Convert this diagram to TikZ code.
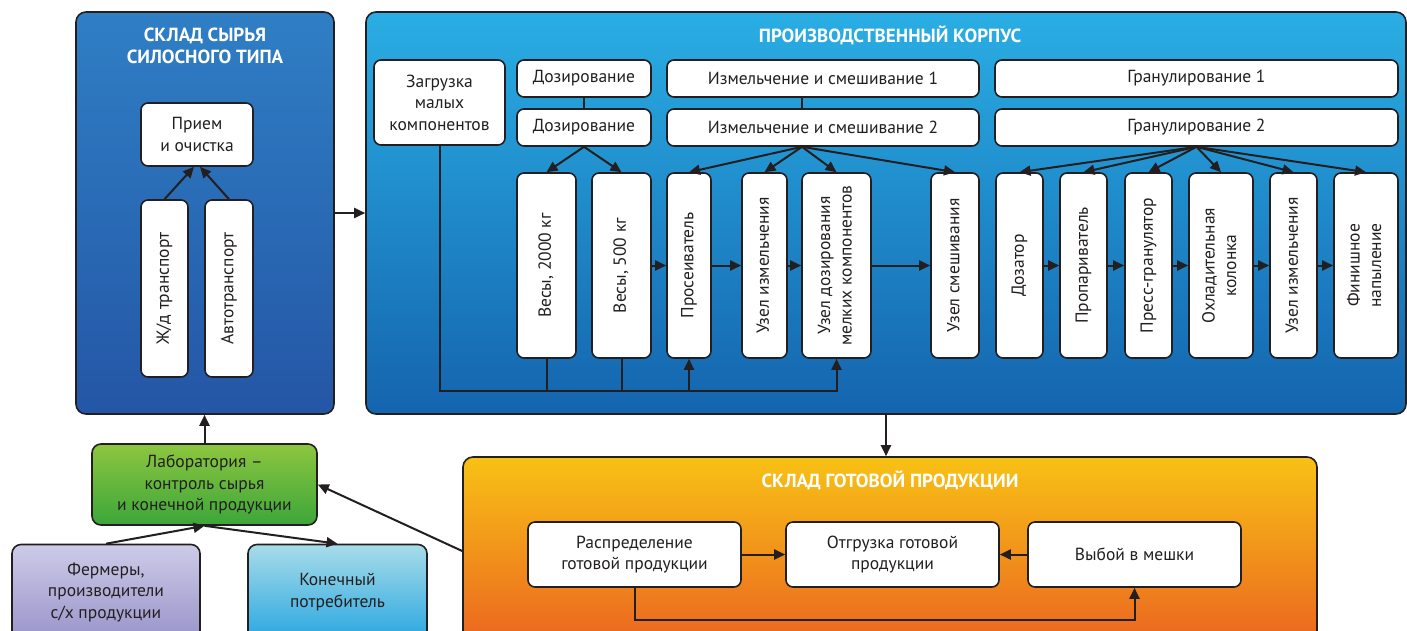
\documentclass[tikz,border=0pt]{standalone}
\usepackage{fontspec}
\setmainfont{PT Sans}
\usepackage{graphicx}
\usetikzlibrary{arrows.meta}

\definecolor{syrtop}{HTML}{2F7FC5}
\definecolor{syrbot}{HTML}{2456A6}
\definecolor{prodtop}{HTML}{2AAEE4}
\definecolor{prodbot}{HTML}{1464AE}
\definecolor{gottop}{HTML}{F8C215}
\definecolor{gotbot}{HTML}{EB6420}
\definecolor{labtop}{HTML}{8DC63F}
\definecolor{labbot}{HTML}{3CA63A}
\definecolor{fermtop}{HTML}{CDCBE8}
\definecolor{fermbot}{HTML}{9994CA}
\definecolor{potrtop}{HTML}{A8DCE9}
\definecolor{potrbot}{HTML}{2AA7E0}
\definecolor{ink}{HTML}{231F20}

\begin{document}
\begin{tikzpicture}[x=1pt,y=-1pt,>={Triangle[length=11pt,width=10pt]},font=\fontsize{17.5}{21.5}\selectfont,text=ink]
 \tikzstyle{panel} = [draw=ink,line width=1.6pt,rounded corners=10pt,inner sep=0pt]
 \tikzstyle{box} = [draw=ink,line width=1.6pt,fill=white,rounded corners=7pt,inner sep=0pt,align=center]
 \tikzstyle{vbox} = [box,minimum height=185pt]
 \tikzstyle{title} = [white,font=\fontsize{19}{22}\selectfont\bfseries,align=center]
 \tikzstyle{link} = [line width=2pt,ink]
 \newcommand{\vtxt}[1]{\rotatebox{90}{\begin{tabular}{@{}c@{}}#1\end{tabular}}}

 \useasboundingbox (0,0) rectangle (1407,630);

% Raw material silo
 \node[panel,top color=syrtop,bottom color=syrbot,minimum width=258pt,minimum height=402pt] (syr) at (205,213) {};
 \node[title] (syrt) at (205,46) {СКЛАД СЫРЬЯ\\СИЛОСНОГО ТИПА};
 \node[box,minimum width=112pt,minimum height=63pt] (priem) at (197,134.5) {Прием\\и очистка};
 \node[vbox,minimum width=47pt,minimum height=177pt] (zhd) at (164.5,288.5) {\vtxt{Ж/д транспорт}};
 \node[vbox,minimum width=48pt,minimum height=177pt] (avto) at (229,288.5) {\vtxt{Автотранспорт}};
 \draw[link,->] (zhd.north) -- ([xshift=-3pt]priem.south);
 \draw[link,->] (avto.north) -- ([xshift=3pt]priem.south);

% Production building
 \node[panel,top color=prodtop,bottom color=prodbot,minimum width=1040pt,minimum height=402pt] (prod) at (886,213) {};
 \node[title] (prodt) at (890,35) {ПРОИЗВОДСТВЕННЫЙ КОРПУС};
 \draw[link,->] (syr.east) -- (prod.west);

 \node[box,minimum width=131pt,minimum height=85pt] (zagr) at (439.5,102.5) {Загрузка\\малых\\компонентов};
 \node[box,minimum width=134pt,minimum height=37pt] (doz1) at (584,78.5) {Дозирование};
 \node[box,minimum width=134pt,minimum height=37pt] (doz2) at (584,127.5) {Дозирование};
 \node[box,minimum width=312pt,minimum height=37pt] (izm1) at (823,78.5) {Измельчение и смешивание 1};
 \node[box,minimum width=312pt,minimum height=37pt] (izm2) at (823,127.5) {Измельчение и смешивание 2};
 \node[box,minimum width=403pt,minimum height=37pt] (gran1) at (1196.5,78.5) {Гранулирование 1};
 \node[box,minimum width=403pt,minimum height=37pt] (gran2) at (1196.5,127.5) {Гранулирование 2};

 \node[vbox,minimum width=59pt] (ves2000) at (546.5,265.5) {\vtxt{Весы, 2000 кг}};
 \node[vbox,minimum width=59pt] (ves500) at (621.5,265.5) {\vtxt{Весы, 500 кг}};
 \node[vbox,minimum width=44pt] (pros) at (689,265.5) {\vtxt{Просеиватель}};
 \node[vbox,minimum width=45pt] (uzizm) at (764.5,265.5) {\vtxt{Узел измельчения}};
 \node[vbox,minimum width=69pt] (uzdoz) at (836.5,265.5) {\vtxt{Узел дозирования\\мелких компонентов}};
 \node[vbox,minimum width=48pt] (uzsm) at (955,265.5) {\vtxt{Узел смешивания}};
 \node[vbox,minimum width=47pt] (dozat) at (1019.5,265.5) {\vtxt{Дозатор}};
 \node[vbox,minimum width=47pt] (propar) at (1083.5,265.5) {\vtxt{Пропариватель}};
 \node[vbox,minimum width=47pt] (press) at (1148.5,265.5) {\vtxt{Пресс-гранулятор}};
 \node[vbox,minimum width=64pt] (ohlad) at (1221,265.5) {\vtxt{Охладительная\\колонка}};
 \node[vbox,minimum width=47pt] (uzizmb) at (1293.5,265.5) {\vtxt{Узел измельчения}};
 \node[vbox,minimum width=64pt] (finish) at (1366,265.5) {\vtxt{Финишное\\напыление}};

% Fans from the stage headers
 \coordinate (izmf) at ([xshift=-21pt]izm2.south);
 \draw[link] (doz1.south) -- (doz2.north);
 \draw[link] (izm1.south -| izmf) -- (izm2.north -| izmf);
 \foreach \n in {ves2000,ves500}
  \draw[link,->] (doz2.south) -- (\n.north);
 \foreach \n in {pros,uzizm,uzdoz,uzsm}
  \draw[link,->] (izmf) -- (\n.north);
 \foreach \n in {dozat,propar,press,ohlad,uzizmb,finish}
  \draw[link,->] (gran2.south) -- (\n.north);
 \foreach \a/\b in {ves500/pros,pros/uzizm,uzizm/uzdoz,uzdoz/uzsm,dozat/propar,propar/press,press/ohlad,ohlad/uzizmb,uzizmb/finish}
  \draw[link,->] (\a.east) -- (\b.west);

% Bottom line
 \coordinate (bus) at (0,391);
 \draw[link,->] (zagr.south) |- (bus -| uzdoz) -- (uzdoz.south);
 \draw[link] (ves2000.south) -- (ves2000.south |- bus);
 \draw[link] (ves500.south) -- (ves500.south |- bus);
 \draw[link,->] (pros.south |- bus) -- (pros.south);

% Finished goods warehouse
 \node[panel,top color=gottop,bottom color=gotbot,minimum width=854pt,minimum height=188pt] (gotov) at (890,551) {};
 \node[title] (gotovt) at (890,480) {СКЛАД ГОТОВОЙ ПРОДУКЦИИ};
 \draw[link,->] (prod.south) -- (prod.south |- gotov.north);
 \node[box,minimum width=213pt,minimum height=65pt] (raspr) at (634.5,554.5) {Распределение\\готовой продукции};
 \node[box,minimum width=213pt,minimum height=65pt] (otgr) at (892.5,554.5) {Отгрузка готовой\\продукции};
 \node[box,minimum width=213pt,minimum height=65pt] (vyboj) at (1134.5,554.5) {Выбой в мешки};
 \draw[link,->] (raspr.east) -- (otgr.west);
 \draw[link,->] (vyboj.west) -- (otgr.east);
 \draw[link,->] (raspr.south) -- ++(0,32) -| (vyboj.south);

% Laboratory and outside parties
 \node[panel,top color=labtop,bottom color=labbot,rounded corners=9pt,minimum width=225pt,minimum height=81pt,align=center] (lab) at (204.5,484.5) {Лаборатория –\\контроль сырья\\и конечной продукции};
 \node[panel,top color=fermtop,bottom color=fermbot,rounded corners=9pt,minimum width=188pt,minimum height=95pt,align=center] (ferm) at (106,592) {Фермеры,\\производители\\с/х продукции};
 \node[panel,top color=potrtop,bottom color=potrbot,rounded corners=9pt,minimum width=179pt,minimum height=95pt,align=center] (potr) at (337.5,592) {Конечный\\потребитель};
 \draw[link,->] (lab.north) -- (lab.north |- syr.south);
 \draw[link,->] (ferm.north) -- (lab.south);
 \draw[link,->] (lab.south) -- (potr.north);
 \draw[link,->] (gotov.west) -- (lab.east);

\end{tikzpicture}
\end{document}
